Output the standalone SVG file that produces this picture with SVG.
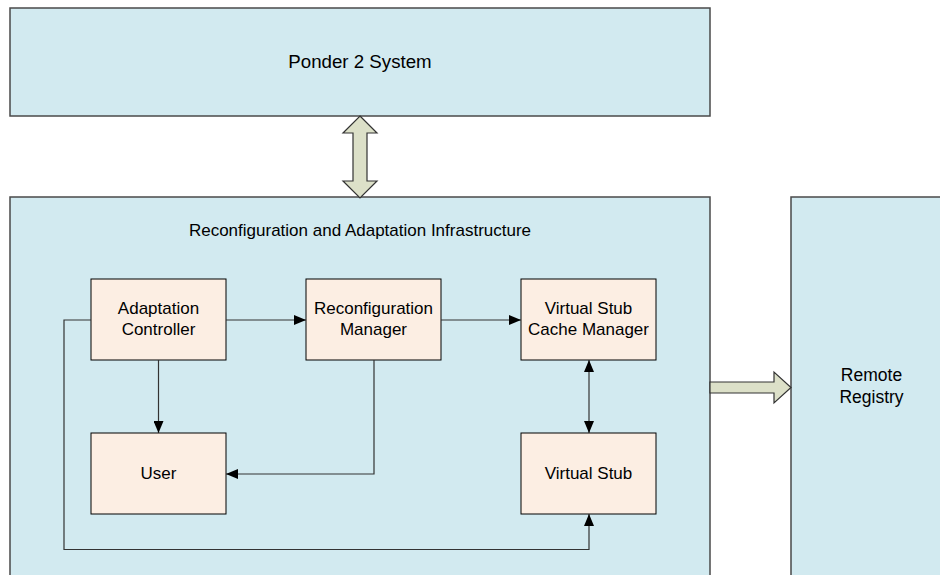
<svg xmlns="http://www.w3.org/2000/svg" width="940" height="575" viewBox="0 0 940 575">
<defs>
<marker id="ah" markerWidth="12" markerHeight="10" refX="12" refY="5" orient="auto" markerUnits="userSpaceOnUse">
<path d="M0,0 L12,5 L0,10 Z" fill="#000"/>
</marker>
<marker id="ahs" markerWidth="12" markerHeight="10" refX="0" refY="5" orient="auto" markerUnits="userSpaceOnUse">
<path d="M12,0 L0,5 L12,10 Z" fill="#000"/>
</marker>
<style>
.big{fill:#D2EAF0;stroke:#4a4a4a;stroke-width:1.5}
.inner{fill:#FCEEE3;stroke:#000;stroke-width:1}
.fat{fill:#DCE0C8;stroke:#333;stroke-width:1.2}
.t{font-family:"Liberation Sans",Arial,sans-serif;fill:#000;text-anchor:middle}
.c{fill:none;stroke:#333;stroke-width:1.2}
</style>
</defs>
<rect width="940" height="575" fill="#fff"/>
<g id="ponder">
<rect class="big" x="10" y="8" width="700" height="108"/>
<text class="t" x="360" y="68" font-size="18.7">Ponder 2 System</text>
</g>
<g id="infrastructure">
<rect class="big" x="10" y="197" width="700" height="390"/>
<text class="t" x="360" y="235.5" font-size="17">Reconfiguration and Adaptation Infrastructure</text>
</g>
<g id="registry">
<rect class="big" x="791" y="197" width="170" height="390"/>
<text class="t" x="871.5" y="381" font-size="17.5">Remote</text>
<text class="t" x="871.5" y="403" font-size="17.5">Registry</text>
</g>
<g id="adaptation-controller">
<rect class="inner" x="91" y="279" width="135" height="81"/>
<text class="t" x="158.5" y="314" font-size="17">Adaptation</text>
<text class="t" x="158.5" y="335" font-size="17">Controller</text>
</g>
<g id="reconfiguration-manager">
<rect class="inner" x="306" y="279" width="135" height="81"/>
<text class="t" x="373.5" y="314" font-size="17">Reconfiguration</text>
<text class="t" x="373.5" y="335" font-size="17">Manager</text>
</g>
<g id="cache-manager">
<rect class="inner" x="521" y="279" width="135" height="81"/>
<text class="t" x="588.5" y="314" font-size="17">Virtual Stub</text>
<text class="t" x="588.5" y="335" font-size="17">Cache Manager</text>
</g>
<g id="user">
<rect class="inner" x="91" y="433" width="135" height="81"/>
<text class="t" x="158.5" y="479" font-size="17">User</text>
</g>
<g id="virtual-stub">
<rect class="inner" x="521" y="433" width="135" height="81"/>
<text class="t" x="588.5" y="479" font-size="17">Virtual Stub</text>
</g>
<g id="connectors">
<polygon class="fat" points="360,116 377,133 367,133 367,181 377,181 360,198 343,181 353,181 353,133 343,133"/>
<polygon class="fat" points="710,382 774,382 774,372 791,387.5 774,403 774,393 710,393"/>
<path class="c" d="M226,320 H306" marker-end="url(#ah)"/>
<path class="c" d="M441,320 H521" marker-end="url(#ah)"/>
<path class="c" d="M158.5,360 V433" marker-end="url(#ah)"/>
<path class="c" d="M374,360 V474 H226" marker-end="url(#ah)"/>
<path class="c" d="M589,360 V433" marker-start="url(#ahs)" marker-end="url(#ah)"/>
<path class="c" d="M91,320 H64 V549.5 H589 V514" marker-end="url(#ah)"/>
</g>
</svg>
